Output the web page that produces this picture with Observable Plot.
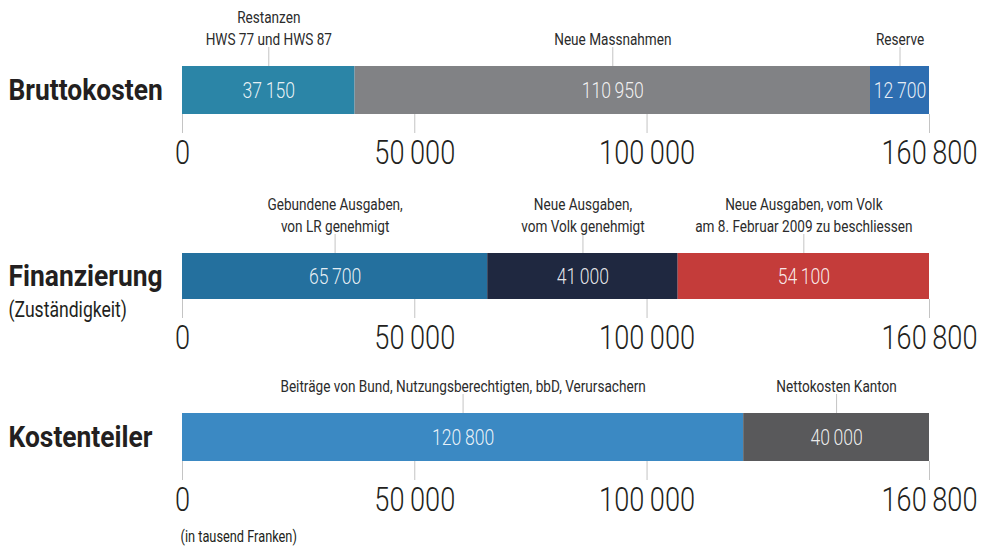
<!DOCTYPE html>
<html>
<head>
<meta charset="utf-8">
<script src="https://cdn.jsdelivr.net/npm/d3@7"></script>
<script src="https://cdn.jsdelivr.net/npm/@observablehq/plot@0.6"></script>
<style>
  html, body { margin: 0; padding: 0; background: #fff; }
  #chart { width: 992px; }
  #chart svg { display: block; }
</style>
</head>
<body>
<div id="chart"></div>
<script>
// ---- Data ----
const titles = ["Bruttokosten", "Finanzierung", "Kostenteiler"];
const subtitles = ["", "(Zuständigkeit)", ""];

const bruttoLabels = ["Restanzen\nHWS 77 und HWS 87", "Neue Massnahmen", "Reserve"];
const bruttoValues = [37150, 110950, 12700];

const finanzLabels = ["Gebundene Ausgaben,\nvon LR genehmigt", "Neue Ausgaben,\nvom Volk genehmigt", "Neue Ausgaben, vom Volk\nam 8. Februar 2009 zu beschliessen"];
const finanzValues = [65700, 41000, 54100];

const kostenLabels = ["Beiträge von Bund, Nutzungsberechtigten, bbD, Verursachern", "Nettokosten Kanton"];
const kostenValues = [120800, 40000];

const tickValues = [0, 50000, 100000, 160800];
const caption = "(in tausend Franken)";

// ---- Styles ----
const FONT = "Roboto, 'DejaVu Sans Condensed', sans-serif";
const CONDENSE = 0.8;       // horizontal squeeze to mimic a condensed typeface
const CONDENSE_TITLE = 0.88;
const palettes = [
  ["#2b85a7", "#818285", "#2e6eb1"],
  ["#24709e", "#1f2840", "#c43c3a"],
  ["#3b89c3", "#59595b"]
];
const fmt = d3.formatLocale({decimal: ".", thousands: "\u2009", grouping: [3], currency: ["", ""]}).format(",d");
const titleSet = new Set(titles);

function chart(i, labels, values, layout) {
  const data = labels.map((label, k) => ({label, value: values[k]}));
  const barH = layout.height - layout.marginTop - layout.marginBottom;
  const marks = [
    Plot.barX(data, Plot.stackX({x: "value", fill: "label"})),
    Plot.ruleX(data, Plot.stackX({x: "value", stroke: "#c4c4c4", strokeWidth: 1, insetTop: -19, insetBottom: barH})),
    Plot.text(data, Plot.stackX({x: "value", text: "label", frameAnchor: "top", lineAnchor: "bottom", dy: -22, fontSize: 17, lineHeight: 1.25, fill: "#2b2b2b"})),
    Plot.text(data, Plot.stackX({x: "value", text: d => fmt(d.value), fill: "white", fillOpacity: 0.9, fontSize: 22, fontWeight: 300})),
    Plot.axisX({ticks: tickValues, tickSize: 19, tickPadding: 6, tickFormat: fmt, fontSize: 34, fontWeight: 300, stroke: "#c4c4c4", fill: "#231f20", label: null}),
    Plot.text([titles[i]], {frameAnchor: "left", dx: -174, textAnchor: "start", fontWeight: "bold", fontSize: 30, fill: "#231f20"})
  ];
  if (subtitles[i]) {
    marks.push(Plot.text([subtitles[i]], {frameAnchor: "left", dx: -174, dy: 33, textAnchor: "start", fontSize: 22, fill: "#231f20"}));
  }
  if (layout.caption) {
    marks.push(Plot.text([layout.caption], {frameAnchor: "bottom-left", dx: -2, dy: 80, textAnchor: "start", fontSize: 16, fill: "#231f20"}));
  }
  const svg = Plot.plot({
    width: 992,
    height: layout.height,
    marginLeft: 182,
    marginRight: 63,
    marginTop: layout.marginTop,
    marginBottom: layout.marginBottom,
    x: {domain: [0, d3.sum(values)], axis: null},
    color: {domain: labels, range: palettes[i]},
    style: {fontFamily: FONT, background: "white", color: "#231f20", overflow: "visible"},
    marks
  });
  d3.select(svg).selectAll("text").each(function() {
    const t = this.getAttribute("transform") || "";
    const x = +this.getAttribute("x") || 0;
    const s = titleSet.has(this.textContent) ? CONDENSE_TITLE : CONDENSE;
    this.setAttribute("transform", `${t} translate(${x},0) scale(${s},1) translate(${-x},0)`);
  });
  return svg;
}

const el = document.getElementById("chart");
el.append(chart(0, bruttoLabels, bruttoValues, {height: 180, marginTop: 66, marginBottom: 66}));
el.append(chart(1, finanzLabels, finanzValues, {height: 180, marginTop: 73, marginBottom: 61}));
el.append(chart(2, kostenLabels, kostenValues, {height: 190, marginTop: 53, marginBottom: 89, caption}));
</script>
</body>
</html>
